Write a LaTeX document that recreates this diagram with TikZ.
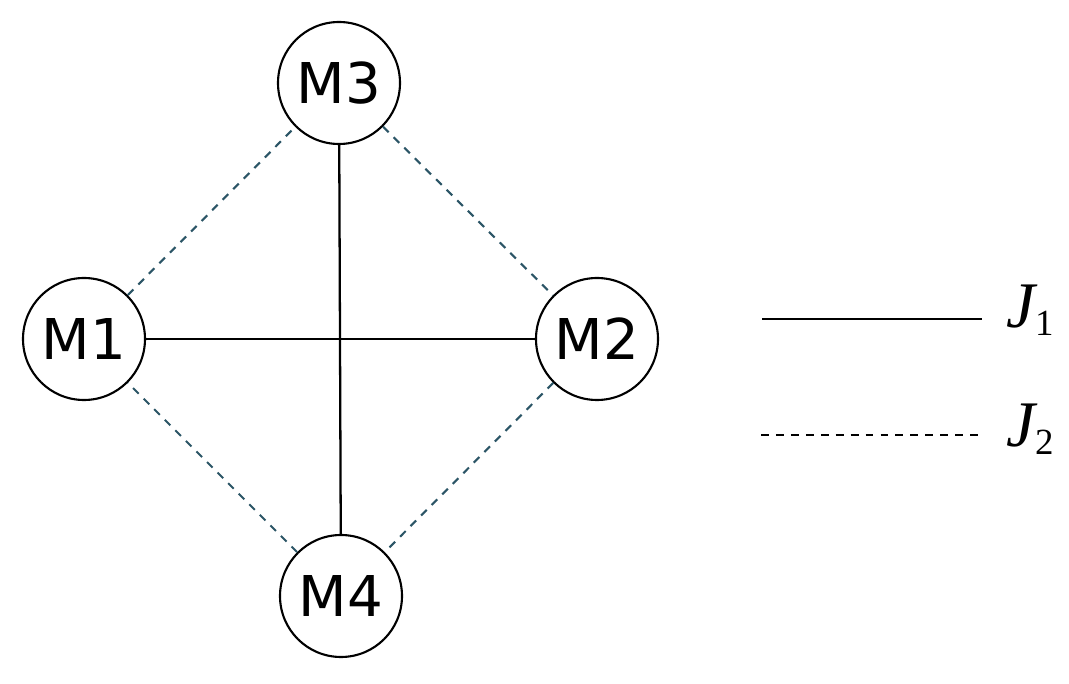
\documentclass[tikz,border=0pt]{standalone}
\usepackage{fontspec}
\setmainfont{DejaVu Sans}
\newfontfamily\jfont{Liberation Serif}
\definecolor{dashteal}{HTML}{2B5566}
\newcommand{\jsub}[1]{\raisebox{-4pt}{\fontsize{21}{24}\selectfont #1}}
\tikzset{
  mnode/.style={draw, circle, line width=1.2pt, minimum size=2.44cm, inner sep=0pt,
    font=\fontsize{32}{38}\selectfont},
  jsolid/.style={line width=1.3pt},
  jdashed/.style={line width=1.2pt, dash pattern=on 4.5pt off 4pt},
  jlabel/.style={anchor=base west, inner sep=0pt, font=\jfont\fontsize{37}{42}\selectfont},
}
\begin{document}
\begin{tikzpicture}
\useasboundingbox (0,0) rectangle (21.38,13.68);
                \begin{scope}[color=black]
                \node[mnode] (m1) at (1.68,6.90) {M1};
                \node[mnode] (m2) at (11.94,6.90) {M2};
                \node[mnode] (m3) at (6.78,12.02) {M3};
                \node[mnode] (m4) at (6.82,1.76) {M4};
                \end{scope}
                \draw[jsolid] (m1) -- (m2);
                \draw[jsolid] (m3) -- (m4);
                \begin{scope}[color=dashteal]
                \draw[jdashed] (m1) -- (m3) -- (m2) -- (m4) -- (m1);
                \end{scope}
                % legend
                \coordinate (s1) at (15.24,7.30);
                \coordinate (s2) at (19.64,7.30);
                \coordinate (d1) at (15.22,4.98);
                \coordinate (d2) at (19.64,4.98);
                \draw[jsolid] (s1) -- (s2);
                \draw[jdashed] (d1) -- (d2);
                \node[jlabel] (j1) at (20.12,7.12) {{\itshape J}\jsub{1}};
                \node[jlabel] (j2) at (20.12,4.74) {{\itshape J}\jsub{2}};
            \end{tikzpicture}
\end{document}
